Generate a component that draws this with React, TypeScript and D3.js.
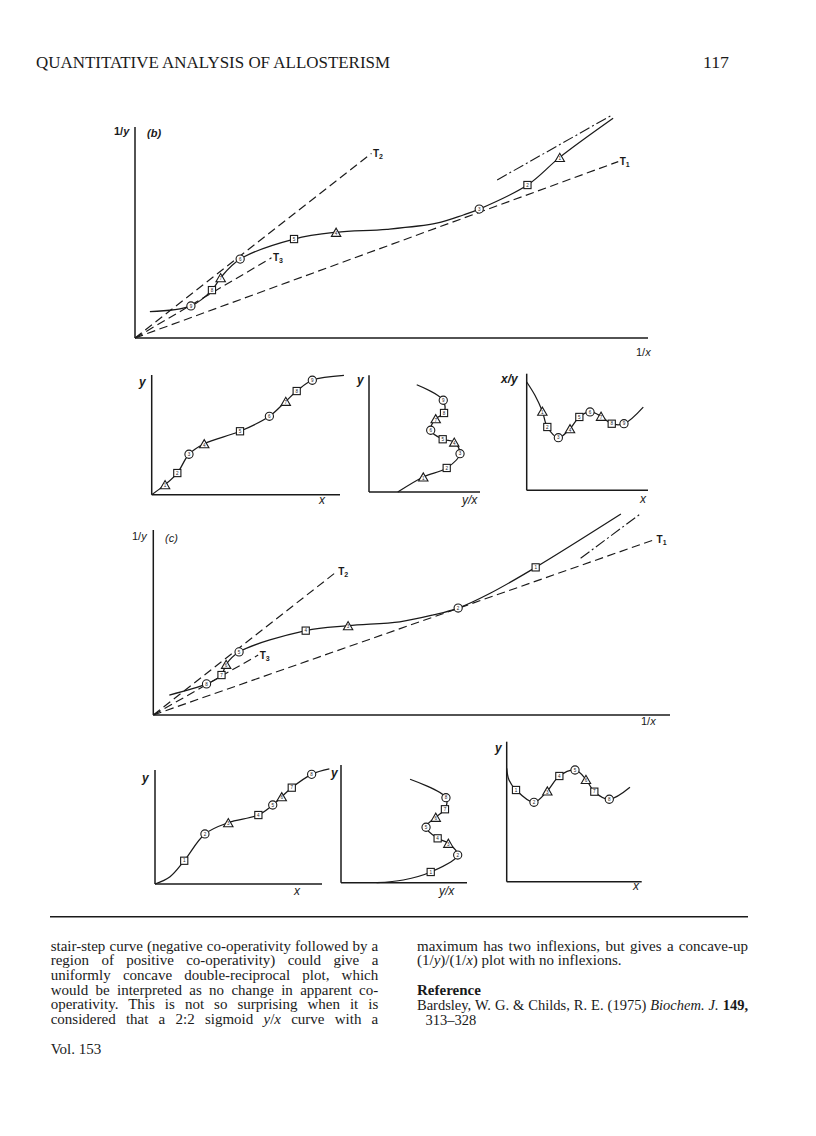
import React, { useEffect, useRef } from 'react';
import * as d3 from 'd3';

type Pt = { x: number; y: number; m?: 'c' | 's' | 't'; n?: number };
type End = { t: string; x: number; y: number };

// ---------- DATA (values in % of each axis length) ----------
// Panel (b): 1/y vs 1/x
const bCurve: Pt[] = [
  { x: 2.9, y: 12.5 },
  { x: 10.9, y: 15.2, m: 'c', n: 9 },
  { x: 15.0, y: 22.7, m: 's', n: 8 },
  { x: 16.7, y: 28.6, m: 't', n: 7 },
  { x: 20.5, y: 37.4, m: 'c', n: 6 },
  { x: 31.0, y: 46.9, m: 's', n: 5 },
  { x: 39.2, y: 50.1, m: 't', n: 4 },
  { x: 49.1, y: 51.5 },
  { x: 58.8, y: 54.4 },
  { x: 64.0, y: 58.3 },
  { x: 67.1, y: 61.1, m: 'c', n: 3 },
  { x: 76.5, y: 72.5, m: 's', n: 2 },
  { x: 82.8, y: 85.6, m: 't', n: 1 },
  { x: 93.2, y: 104.1 },
];
const bTangents: End[] = [
  { t: '2', x: 46.1, y: 87.5 },
  { t: '3', x: 26.6, y: 38.0 },
  { t: '1', x: 94.2, y: 83.6 },
];
const bDashDot: Pt[] = [{ x: 70.6, y: 74.9 }, { x: 93.0, y: 105.7 }];

// Panel (c): 1/y vs 1/x
const cCurve: Pt[] = [
  { x: 3.1, y: 10.8 },
  { x: 10.3, y: 16.8, m: 'c', n: 8 },
  { x: 13.2, y: 21.6, m: 's', n: 7 },
  { x: 14.1, y: 27.4, m: 't', n: 6 },
  { x: 16.6, y: 34.1, m: 'c', n: 5 },
  { x: 29.5, y: 45.6, m: 's', n: 4 },
  { x: 37.7, y: 48.3, m: 't', n: 3 },
  { x: 47.7, y: 50.4 },
  { x: 54.2, y: 54.1 },
  { x: 59.0, y: 57.8, m: 'c', n: 2 },
  { x: 65.2, y: 65.8 },
  { x: 74.0, y: 79.8, m: 's', n: 1 },
  { x: 90.5, y: 108.6 },
];
const cTangents: End[] = [
  { t: '2', x: 35.5, y: 77.5 },
  { t: '3', x: 20.3, y: 32.4 },
  { t: '1', x: 97.1, y: 94.9 },
];
const cDashDot: Pt[] = [{ x: 82.7, y: 84.7 }, { x: 94.4, y: 109.0 }];

// Row 1 small plots (from panel b)
const r1YX: Pt[] = [
  { x: 0, y: 0 },
  { x: 7.1, y: 8.4, m: 't', n: 1 },
  { x: 13.6, y: 18.1, m: 's', n: 2 },
  { x: 19.8, y: 33.8, m: 'c', n: 3 },
  { x: 27.9, y: 42.6, m: 't', n: 4 },
  { x: 46.9, y: 53.0, m: 's', n: 5 },
  { x: 62.5, y: 65.5, m: 'c', n: 6 },
  { x: 71.2, y: 78.0, m: 't', n: 7 },
  { x: 77.0, y: 86.6, m: 's', n: 8 },
  { x: 85.3, y: 95.6, m: 'c', n: 9 },
  { x: 102.1, y: 99.7 },
];
const r1Scat: Pt[] = [
  { x: 25.9, y: 0 },
  { x: 48.9, y: 12.9, m: 't', n: 1 },
  { x: 70.0, y: 20.6, m: 's', n: 2 },
  { x: 82.0, y: 32.8, m: 'c', n: 3 },
  { x: 76.8, y: 42.8, m: 't', n: 4 },
  { x: 66.4, y: 45.2, m: 's', n: 5 },
  { x: 55.6, y: 52.9, m: 'c', n: 6 },
  { x: 60.1, y: 62.8, m: 't', n: 7 },
  { x: 67.6, y: 67.7, m: 's', n: 8 },
  { x: 66.9, y: 78.6, m: 'c', n: 9 },
  { x: 43.0, y: 91.9 },
];
const r1Hanes: Pt[] = [
  { x: 0, y: 92.9 },
  { x: 6.8, y: 81.5 },
  { x: 12.9, y: 67.8, m: 't', n: 1 },
  { x: 17.0, y: 54.3, m: 's', n: 2 },
  { x: 26.1, y: 45.1, m: 'c', n: 3 },
  { x: 35.7, y: 52.8, m: 't', n: 4 },
  { x: 43.4, y: 62.9, m: 's', n: 5 },
  { x: 52.2, y: 67.2, m: 'c', n: 6 },
  { x: 61.3, y: 63.5, m: 't', n: 7 },
  { x: 70.1, y: 57.1, m: 's', n: 8 },
  { x: 80.2, y: 57.1, m: 'c', n: 9 },
  { x: 96.1, y: 71.4 },
];

// Row 2 small plots (from panel c)
const r2YX: Pt[] = [
  { x: 0, y: 0 },
  { x: 9.0, y: 6.4 },
  { x: 17.5, y: 20.4, m: 's', n: 1 },
  { x: 29.9, y: 43.9, m: 'c', n: 2 },
  { x: 43.9, y: 53.8, m: 't', n: 3 },
  { x: 61.9, y: 60.5, m: 's', n: 4 },
  { x: 70.5, y: 69.3, m: 'c', n: 5 },
  { x: 75.9, y: 76.6, m: 't', n: 6 },
  { x: 81.9, y: 84.5, m: 's', n: 7 },
  { x: 93.8, y: 96.2, m: 'c', n: 8 },
  { x: 104.4, y: 100.9 },
];
const r2Scat: Pt[] = [
  { x: 28.3, y: 0 },
  { x: 49.4, y: 2.3 },
  { x: 71.2, y: 9.1, m: 's', n: 1 },
  { x: 92.6, y: 23.5, m: 'c', n: 2 },
  { x: 85.2, y: 33.5, m: 't', n: 3 },
  { x: 76.7, y: 37.7, m: 's', n: 4 },
  { x: 67.5, y: 47.1, m: 'c', n: 5 },
  { x: 75.2, y: 55.6, m: 't', n: 6 },
  { x: 82.5, y: 62.4, m: 's', n: 7 },
  { x: 83.3, y: 72.2, m: 'c', n: 8 },
  { x: 54.8, y: 87.9 },
];
const r2Hanes: Pt[] = [
  { x: 0, y: 81.0 },
  { x: 1.7, y: 72.6 },
  { x: 6.9, y: 65.5, m: 's', n: 1 },
  { x: 20.2, y: 56.7, m: 'c', n: 2 },
  { x: 30.1, y: 64.8, m: 't', n: 3 },
  { x: 39.0, y: 75.5, m: 's', n: 4 },
  { x: 50.6, y: 79.8, m: 'c', n: 5 },
  { x: 58.7, y: 73.1, m: 't', n: 6 },
  { x: 64.9, y: 64.3, m: 's', n: 7 },
  { x: 76.0, y: 58.9, m: 'c', n: 8 },
  { x: 91.3, y: 67.4 },
];

// Page text
const headerTitle = 'QUANTITATIVE ANALYSIS OF ALLOSTERISM';
const pageNumber = '117';
const leftLines = [
  'stair-step curve (negative co-operativity followed by a',
  'region of positive co-operativity) could give a',
  'uniformly concave double-reciprocal plot, which',
  'would be interpreted as no change in apparent co-',
  'operativity. This is not so surprising when it is',
];
const footer = 'Vol. 153';

// ---------- LAYOUT ----------
type Frame = { l: number; r: number; b: number; t: number };
const FB: Frame = { l: 135, r: 648, b: 338, t: 127 };
const FC: Frame = { l: 153.3, r: 670, b: 715, t: 530 };
const F1a: Frame = { l: 151.7, r: 340, b: 494.7, t: 375 };
const F1b: Frame = { l: 369, r: 480, b: 492, t: 375.3 };
const F1c: Frame = { l: 526.7, r: 648, b: 490.3, t: 373.7 };
const F2a: Frame = { l: 155, r: 322, b: 884, t: 770 };
const F2b: Frame = { l: 341, r: 467, b: 882.7, t: 765 };
const F2c: Frame = { l: 506.7, r: 641.7, b: 881.7, t: 741.7 };

const INK = '#1a1a1a';
const SANS = '"Liberation Sans", "DejaVu Sans", sans-serif';
const SERIF = '"Liberation Serif", "DejaVu Serif", serif';
const BODY = 15;

function scales(f: Frame) {
  const sx = d3.scaleLinear().domain([0, 100]).range([f.l, f.r]);
  const sy = d3.scaleLinear().domain([0, 100]).range([f.b, f.t]);
  return { sx, sy };
}

function Marker({ cx, cy, m, n }: { cx: number; cy: number; m: string; n?: number }) {
  let shape: React.ReactNode = null;
  if (m === 'c') shape = <circle cx={cx} cy={cy} r={4.1} fill="#fff" stroke={INK} strokeWidth={1.1} />;
  else if (m === 's')
    shape = <rect x={cx - 3.6} y={cy - 3.6} width={7.2} height={7.2} fill="#fff" stroke={INK} strokeWidth={1.1} />;
  else {
    const s = 9.4, h = s * 0.866;
    const pts = `${cx - s / 2},${cy + h / 2} ${cx + s / 2},${cy + h / 2} ${cx},${cy - h / 2}`;
    shape = <polygon points={pts} fill="#fff" stroke={INK} strokeWidth={1.1} />;
  }
  return (
    <g>
      {shape}
      {n !== undefined && (
        <text x={cx} y={cy + (m === 't' ? 2.8 : 1.6)} fontSize={4.6} textAnchor="middle" fontFamily={SANS} fill={INK}>
          {n}
        </text>
      )}
    </g>
  );
}

function Plot({ f, pts, tangents, dashdot }: { f: Frame; pts: Pt[]; tangents?: End[]; dashdot?: Pt[] }) {
  const { sx, sy } = scales(f);
  const line = d3
    .line<Pt>()
    .x((d) => sx(d.x))
    .y((d) => sy(d.y))
    .curve(d3.curveCatmullRom.alpha(0.5));
  const straight = d3
    .line<Pt>()
    .x((d) => sx(d.x))
    .y((d) => sy(d.y));
  return (
    <g>
      <line x1={f.l} y1={f.b} x2={f.l} y2={f.t} stroke={INK} strokeWidth={1.5} />
      <line x1={f.l} y1={f.b} x2={f.r} y2={f.b} stroke={INK} strokeWidth={1.5} />
      {tangents &&
        tangents.map((t) => (
          <g key={t.t}>
            <path
              d={straight([{ x: 0, y: 0 }, { x: t.x, y: t.y }]) || ''}
              fill="none"
              stroke={INK}
              strokeWidth={1.15}
              strokeDasharray="8.5,4.5"
            />
            <text x={sx(t.x) + 1.5} y={sy(t.y) + 3.5} fontFamily={SANS} fontWeight="bold" fontSize={10} fill={INK}>
              T
              <tspan fontSize={7} dy={2}>
                {t.t}
              </tspan>
            </text>
          </g>
        ))}
      {dashdot && (
        <path d={straight(dashdot) || ''} fill="none" stroke={INK} strokeWidth={1.1} strokeDasharray="11,3,2,3" />
      )}
      <path d={line(pts) || ''} fill="none" stroke={INK} strokeWidth={1.25} />
      {pts
        .filter((p) => p.m)
        .map((p, i) => (
          <Marker key={i} cx={sx(p.x)} cy={sy(p.y)} m={p.m as string} n={p.n} />
        ))}
    </g>
  );
}

function Lbl({ x, y, children, size = 12, weight = 'bold', style = 'italic' }: any) {
  return (
    <text x={x} y={y} fontFamily={SANS} fontSize={size} fontStyle={style} fontWeight={weight} fill={INK}>
      {children}
    </text>
  );
}

export default function App() {
  const ref = useRef<SVGSVGElement>(null);
  useEffect(() => {
    if (!ref.current) return;
    d3.select(ref.current)
      .selectAll<SVGTextElement, unknown>('text.just')
      .each(function () {
        const el = this;
        const target = +(el.getAttribute('data-w') || 0);
        el.style.wordSpacing = '0px';
        const w = el.getComputedTextLength();
        const spaces = ((el.textContent || '').match(/ /g) || []).length;
        if (spaces > 0 && target > w) el.style.wordSpacing = `${(target - w) / spaces}px`;
        else if (target < w) {
          el.setAttribute('textLength', String(target));
          el.setAttribute('lengthAdjust', 'spacingAndGlyphs');
        }
      });
  }, []);

  const colL = 50.7, colW = 327.6, colR = 417, colRW = 331;
  const lb = [950.5, 965.3, 980, 994.5, 1009, 1024];

  return (
    <svg
      ref={ref}
      width={816}
      height={1136}
      viewBox="0 0 816 1136"
      style={{ position: 'absolute', left: 0, top: 0, background: '#fff' }}
    >
      <rect x={0} y={0} width={816} height={1136} fill="#fff" />
      {/* header */}
      <text x={36} y={68} fontFamily={SERIF} fontSize={16} fill={INK} textLength={354} lengthAdjust="spacingAndGlyphs">
        {headerTitle}
      </text>
      <text x={703} y={68} fontFamily={SERIF} fontSize={16} fill={INK} textLength={26} lengthAdjust="spacingAndGlyphs">
        {pageNumber}
      </text>

      {/* panel (b) */}
      <Plot f={FB} pts={bCurve} tangents={bTangents} dashdot={bDashDot} />
      <Lbl x={114} y={135} size={11} style="normal">1/<tspan fontStyle="italic">y</tspan></Lbl>
      <Lbl x={147} y={137} size={11}>(b)</Lbl>
      <Lbl x={636} y={356} size={11} weight="normal" style="normal">1/<tspan fontStyle="italic">x</tspan></Lbl>

      {/* row 1 */}
      <Plot f={F1a} pts={r1YX} />
      <Lbl x={139} y={386}>y</Lbl>
      <Lbl x={319} y={504} weight="normal">x</Lbl>
      <Plot f={F1b} pts={r1Scat} />
      <Lbl x={357} y={384}>y</Lbl>
      <Lbl x={462} y={504} weight="normal">y/x</Lbl>
      <Plot f={F1c} pts={r1Hanes} />
      <Lbl x={501} y={383}>x/y</Lbl>
      <Lbl x={640} y={503} weight="normal">x</Lbl>

      {/* panel (c) */}
      <Plot f={FC} pts={cCurve} tangents={cTangents} dashdot={cDashDot} />
      <Lbl x={132} y={540} size={11} weight="normal" style="normal">1/<tspan fontStyle="italic">y</tspan></Lbl>
      <Lbl x={165} y={542} size={11} weight="normal">(c)</Lbl>
      <Lbl x={641} y={725} size={11} weight="normal" style="normal">1/<tspan fontStyle="italic">x</tspan></Lbl>

      {/* row 2 */}
      <Plot f={F2a} pts={r2YX} />
      <Lbl x={142} y={782}>y</Lbl>
      <Lbl x={294} y={895} weight="normal">x</Lbl>
      <Plot f={F2b} pts={r2Scat} />
      <Lbl x={331} y={777}>y</Lbl>
      <Lbl x={439} y={895} weight="normal">y/x</Lbl>
      <Plot f={F2c} pts={r2Hanes} />
      <Lbl x={495} y={752}>y</Lbl>
      <Lbl x={633} y={890} weight="normal">x</Lbl>

      {/* rule */}
      <line x1={50} y1={916.7} x2={748} y2={916.7} stroke={INK} strokeWidth={1.5} />

      {/* left column */}
      {leftLines.map((s, i) => (
        <text key={i} className="just" data-w={colW} x={colL} y={lb[i]} fontFamily={SERIF} fontSize={BODY} fill={INK}>
          {s}
        </text>
      ))}
      <text className="just" data-w={colW} x={colL} y={lb[5]} fontFamily={SERIF} fontSize={BODY} fill={INK}>
        considered that a 2:2 sigmoid <tspan fontStyle="italic">y</tspan>/<tspan fontStyle="italic">x</tspan> curve with a
      </text>
      <text x={colL} y={1054} fontFamily={SERIF} fontSize={BODY} fill={INK}>
        {footer}
      </text>

      {/* right column */}
      <text className="just" data-w={colRW} x={colR} y={lb[0]} fontFamily={SERIF} fontSize={BODY} fill={INK}>
        maximum has two inflexions, but gives a concave-up
      </text>
      <text x={colR} y={lb[1]} fontFamily={SERIF} fontSize={BODY} fill={INK}>
        (1/<tspan fontStyle="italic">y</tspan>)/(1/<tspan fontStyle="italic">x</tspan>) plot with no inflexions.
      </text>
      <text x={colR} y={lb[3]} fontFamily={SERIF} fontSize={BODY} fontWeight="bold" fill={INK}>
        Reference
      </text>
      <text className="just" data-w={colRW} x={colR} y={lb[4] + 1} fontFamily={SERIF} fontSize={BODY - 0.5} fill={INK}>
        Bardsley, W. G. &amp; Childs, R. E. (1975) <tspan fontStyle="italic">Biochem. J.</tspan>{' '}
        <tspan fontWeight="bold">149,</tspan>
      </text>
      <text x={colR + 8.5} y={lb[5] + 1} fontFamily={SERIF} fontSize={BODY - 0.5} fill={INK}>
        313–328
      </text>
    </svg>
  );
}
